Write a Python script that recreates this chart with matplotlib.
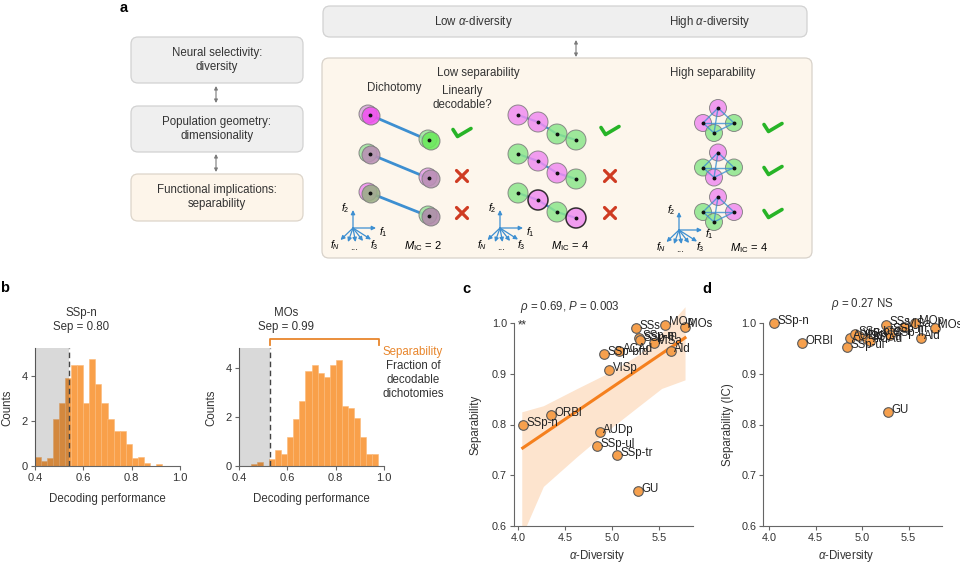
import numpy as np
import matplotlib
matplotlib.use('Agg')
import matplotlib.pyplot as plt
from matplotlib.patches import Circle, FancyBboxPatch

plt.rcParams['font.family'] = ['Liberation Sans', 'DejaVu Sans']
plt.rcParams['mathtext.fontset'] = 'custom'
plt.rcParams['mathtext.rm'] = 'Liberation Sans'
plt.rcParams['mathtext.it'] = 'Liberation Sans:italic'
plt.rcParams['mathtext.bf'] = 'Liberation Sans:bold'

# ---- panel b: decoding performance histograms ----
bin_edges = np.round(np.arange(0.4, 1.0001, 0.025), 3)
sspn_counts = [0.41, 0.22, 0.34, 2.1, 2.8, 3.93, 4.5, 4.5, 2.8, 4.74, 3.63, 2.8,
               2.1, 1.55, 1.55, 0.96, 0.37, 0.4, 0.13, 0, 0.07, 0, 0, 0]
mos_counts = [0, 0, 0.07, 0.15, 0, 0.3, 0.66, 0.47, 1.19, 1.9, 2.65, 3.85,
              4.1, 3.77, 3.64, 4.1, 4.3, 2.45, 2.35, 1.95, 1.2, 0.5, 0.5, 0]
sspn_thresh = 0.54
mos_thresh = 0.53
sep_range_end = 0.98

# ---- panels c, d: separability vs alpha-diversity ----
areas = ['SSp-n', 'ORBl', 'SSp-ul', 'AUDp', 'SSp-bfd', 'VISp', 'SSp-tr', 'ACAd',
         'SSs', 'GU', 'SSp-m', 'SSp-ll', 'VISa', 'MOp', 'Ald', 'MOs']
alpha_div = [4.05, 4.35, 4.84, 4.87, 4.92, 4.97, 5.055, 5.08,
             5.26, 5.28, 5.29, 5.30, 5.45, 5.57, 5.63, 5.78]
sep = [0.799, 0.818, 0.757, 0.786, 0.939, 0.907, 0.740, 0.944,
       0.990, 0.668, 0.970, 0.966, 0.961, 0.997, 0.945, 0.993]
sep_ic = [1.000, 0.961, 0.953, 0.971, 0.979, 0.975, 0.968, 0.965,
          0.997, 0.824, 0.985, 0.976, 0.993, 1.000, 0.970, 0.991]
# confidence band of the regression in c
band_x = [4.04, 4.27, 4.63, 4.99, 5.28, 5.53, 5.78]
band_lo = [0.58, 0.678, 0.737, 0.793, 0.835, 0.871, 0.888]
band_hi = [0.825, 0.837, 0.871, 0.904, 0.937, 0.980, 1.032]

ORANGE = '#f9a04a'
DARK_OR = '#e8862c'
BLUE = '#3d8fd1'
MAG = '#f08cf0'
GRN = '#8ce68c'

fig = plt.figure(figsize=(9.6, 5.65), dpi=100)

# overlay in pixel units for the schematic and free text
ax0 = fig.add_axes([0, 0, 1, 1])
ax0.set_xlim(0, 960)
ax0.set_ylim(565, 0)
ax0.axis('off')


def box(x0, y0, x1, y1, fc, ec='#d2d2d2'):
    ax0.add_patch(FancyBboxPatch((x0, y0), x1 - x0, y1 - y0,
                                 boxstyle='round,pad=0,rounding_size=7',
                                 fc=fc, ec=ec, lw=0.9, zorder=1))


def darrow(x, y0, y1):
    ax0.annotate('', xy=(x, y1), xytext=(x, y0),
                 arrowprops=dict(arrowstyle='<|-|>', color='#7a7a7a', lw=0.8,
                                 mutation_scale=5, shrinkA=0, shrinkB=0))


def check(cx, cy):
    ax0.plot([cx - 9, cx - 4.5, cx + 9], [cy - 2.5, cy + 4.5, cy - 3.5],
             color='#27b427', lw=2.6, solid_capstyle='round',
             solid_joinstyle='round', zorder=5)


def cross(cx, cy, s=5.5):
    kw = dict(color='#cf3b22', lw=2.3, solid_capstyle='round', zorder=5)
    ax0.plot([cx - s, cx + s], [cy - s, cy + s], **kw)
    ax0.plot([cx - s, cx + s], [cy + s, cy - s], **kw)


def disc(x, y, fc, r=8.5, ec='#7a7a7a', lw=0.7, alpha=0.88):
    ax0.add_patch(Circle((x, y), r, fc=fc, ec=ec, lw=lw, alpha=alpha, zorder=3))


def dot(x, y):
    ax0.plot(x, y, 'o', ms=1.8, color='#111', zorder=6)


def frame(ox, oy, mic):
    ak = dict(arrowstyle='-|>', color=BLUE, lw=0.9, mutation_scale=6,
              shrinkA=0, shrinkB=0)
    for dx, dy in [(0, -18), (23, 0), (-12.5, 12), (-5, 14), (2.5, 14), (10, 13), (18, 11.5)]:
        ax0.annotate('', xy=(ox + dx, oy + dy), xytext=(ox, oy), arrowprops=ak, zorder=5)
    fs = 7.5
    ax0.text(ox - 8, oy - 20, '$f_2$', fontsize=fs, ha='center', va='center')
    ax0.text(ox + 30, oy + 4, '$f_1$', fontsize=fs, ha='center', va='center')
    ax0.text(ox - 18, oy + 17, '$f_N$', fontsize=fs, ha='center', va='center')
    ax0.text(ox + 1, oy + 19, '...', fontsize=7, ha='center', va='center')
    ax0.text(ox + 21, oy + 17, '$f_3$', fontsize=fs, ha='center', va='center')
    ax0.text(ox + 70, oy + 18, r'$M_{\rm IC}$ = %d' % mic, fontsize=8,
             ha='center', va='center')


# left flow boxes
box(131, 37, 303, 83, '#efefef')
box(131, 106, 303, 152, '#efefef')
box(131, 174, 303, 221, '#fdf5ea', '#ddd5ca')
ax0.text(217, 60, 'Neural selectivity:\ndiversity', ha='center', va='center', fontsize=8.3, color='#333')
ax0.text(217, 129, 'Population geometry:\ndimensionality', ha='center', va='center', fontsize=8.3, color='#333')
ax0.text(217, 197, 'Functional implications:\nseparability', ha='center', va='center', fontsize=8.3, color='#333')
darrow(216, 86, 103)
darrow(216, 154, 172)

# right schematic boxes
box(323, 6, 807, 37, '#efefef')
ax0.text(473, 22, r'Low $\alpha$-diversity', ha='center', va='center', fontsize=8.3, color='#333')
ax0.text(710, 22, r'High $\alpha$-diversity', ha='center', va='center', fontsize=8.3, color='#333')
darrow(576, 40, 57)
box(322, 58, 812, 258, '#fdf6ec', '#d8d2ca')
ax0.text(478, 73, 'Low separability', ha='center', va='center', fontsize=8.3, color='#333')
ax0.text(713, 73, 'High separability', ha='center', va='center', fontsize=8.3, color='#333')
ax0.text(394, 88, 'Dichotomy', ha='center', va='center', fontsize=8.3, color='#333')
ax0.text(462, 98, 'Linearly\ndecodable?', ha='center', va='center', fontsize=8.3, color='#333')

# two-point dichotomies
pair_cols = [(('#d9a6dd', '#f052f0'), ('#9ee89e', '#6aea5a')),
             (('#9fe39f', '#b98fb5'), ('#e3a0e3', '#b98fb5')),
             (('#f090f0', '#9aae86'), ('#9fe39f', '#b08aab'))]
for i, (lc, rc) in enumerate(pair_cols):
    ly, ry = 115 + 39 * i, 140 + 38 * i
    ax0.plot([370, 428], [ly, ry], color=BLUE, lw=2, zorder=2)
    disc(368, ly - 1, lc[0], r=9)
    disc(371, ly + 1, lc[1], r=9)
    disc(428, ry - 1, rc[0], r=9)
    disc(431, ry + 1, rc[1], r=9)
    dot(370, ly)
    dot(429, ry)
check(462, 132)
cross(462, 176)
cross(462, 213)
frame(353, 228, 2)

# four-point chains
chain_dx = [0, 20, 39, 58]
chain_dy = [0, 7, 19, 25]
chain_cols = [[MAG, MAG, GRN, GRN], [GRN, MAG, MAG, GRN], [GRN, MAG, GRN, MAG]]
for i, cols in enumerate(chain_cols):
    xs = [518 + d for d in chain_dx]
    ys = [115 + 39 * i + d for d in chain_dy]
    ax0.plot(xs, ys, color=BLUE, lw=1.6, zorder=2)
    for j, (x, y, c) in enumerate(zip(xs, ys, cols)):
        black = (i == 2 and j in (1, 3))
        disc(x, y, c, r=10, ec='#111' if black else '#7a7a7a',
             lw=1.1 if black else 0.7, alpha=0.85)
        dot(x, y)
check(610, 130)
cross(610, 176)
cross(610, 213)
frame(500, 228, 4)

# tetrahedral arrangements
tet_off = [(0, 0), (-15, 15), (16, 15), (-4, 25)]
tet_cols = [[MAG, MAG, GRN, GRN], [MAG, GRN, GRN, MAG], [MAG, GRN, MAG, GRN]]
for i, cols in enumerate(tet_cols):
    pts = [(718 + dx, 108 + 44.5 * i + dy) for dx, dy in tet_off]
    for (x, y), c in zip(pts, cols):
        disc(x, y, c, r=8.5, alpha=0.85)
    for a in range(4):
        for b in range(a + 1, 4):
            ax0.plot([pts[a][0], pts[b][0]], [pts[a][1], pts[b][1]],
                     color=BLUE, lw=1, alpha=0.8, zorder=4)
    for x, y in pts:
        dot(x, y)
    check(773, 127 + 43 * i)
frame(679, 230, 4)

# panel letters
for x, y, s in [(120, 8, 'a'), (0, 288, 'b'), (462, 289, 'c'), (702, 289, 'd')]:
    ax0.text(x, y, s, fontsize=10.5, fontweight='bold', ha='left', va='center')


def style(ax, labelsize=7.5):
    for s in ('top', 'right'):
        ax.spines[s].set_visible(False)
    for s in ('left', 'bottom'):
        ax.spines[s].set_color('#666')
        ax.spines[s].set_linewidth(0.8)
    ax.tick_params(labelsize=labelsize, length=3, width=0.8, color='#666',
                   labelcolor='#333', pad=2)
    ax.patch.set_alpha(0)


# ---- panel b ----
hist_specs = [(35, sspn_counts, sspn_thresh, 5.24, 81, 'SSp-n\nSep = 0.80'),
              (239, mos_counts, mos_thresh, 4.8, 286, 'MOs\nSep = 0.99')]
hist_axes = []
for left, counts, thr, ytop, tx, title in hist_specs:
    ax = fig.add_axes([left / 960, 1 - 466 / 565, 145 / 960, 118 / 565])
    ax.bar(bin_edges[:-1], counts, width=0.025, align='edge', color=ORANGE,
           edgecolor='#fbb978', linewidth=0.4, zorder=2)
    ax.axvspan(0.4, thr, color='black', alpha=0.15, lw=0, zorder=3)
    ax.axvline(thr, color='#444', ls=(0, (4, 2.5)), lw=1, zorder=4)
    ax.set_xlim(0.4, 1.0)
    ax.set_ylim(0, ytop)
    ax.set_xticks([0.4, 0.6, 0.8, 1.0])
    ax.set_yticks([0, 2, 4])
    style(ax, 8)
    ax0.text(tx, 320, title, ha='center', va='center', fontsize=8.3, color='#333',
             linespacing=1.3)
    ax0.text(left + 72.5, 499, 'Decoding performance', ha='center', va='center',
             fontsize=8.3, color='#333')
    ax0.text(left - 28, 408, 'Counts', rotation=90, ha='center', va='center',
             fontsize=8.3, color='#333')
    hist_axes.append(ax)

axm = hist_axes[1]
yb = 4.8 + 9 / 24.6
axm.plot([mos_thresh, mos_thresh, sep_range_end, sep_range_end],
         [yb - 0.25, yb, yb, yb - 0.25], color=DARK_OR, lw=1.3, clip_on=False)
ax0.text(413, 352, 'Separability', ha='center', va='center', fontsize=8.3, color=DARK_OR)
ax0.text(413, 380, 'Fraction of\ndecodable\ndichotomies', ha='center', va='center',
         fontsize=8.3, color='#333', linespacing=1.25)

# ---- panels c and d ----
scatter_specs = [(514, 3.957, 5.865, sep, 'Separability', 475),
                 (763.3, 3.939, 5.862, sep_ic, 'Separability (IC)', 728)]
sc_axes = []
for left, x0, x1, yv, ylab, ylx in scatter_specs:
    ax = fig.add_axes([left / 960, 1 - 526 / 565, 179 / 960, 223.3 / 565])
    ax.scatter(alpha_div, yv, s=48, c='#f6a04d', edgecolors='#5a5a5a',
               linewidths=0.8, zorder=3)
    for name, x, y in zip(areas, alpha_div, yv):
        ax.annotate(name, (x, y), xytext=(2.5, 1.5), textcoords='offset points',
                    fontsize=8.3, va='center', ha='left', color='#222', zorder=4)
    ax.set_xlim(x0, x1)
    ax.set_ylim(0.6, 1.04)
    ax.spines['left'].set_bounds(0.6, 1.0)
    ax.set_xticks([4.0, 4.5, 5.0, 5.5])
    ax.set_yticks([0.6, 0.7, 0.8, 0.9, 1.0])
    style(ax, 7.8)
    ax0.text(ylx, 425, ylab, rotation=90, ha='center', va='center', fontsize=8.3, color='#333')
    ax0.text(left + 83, 556, r'$\alpha$-Diversity', ha='center', va='center',
             fontsize=8.3, color='#333')
    sc_axes.append(ax)

axc = sc_axes[0]
axc.fill_between(band_x, band_lo, band_hi, color='#fde4ce', lw=0, zorder=1)
fit = np.polyfit(alpha_div, sep, 1)
fx = np.array([min(alpha_div), max(alpha_div)])
axc.plot(fx, np.polyval(fit, fx), color='#f5801e', lw=2.2, zorder=2)
ax0.text(520, 307, r'$\rho$ = 0.69, $P$ = 0.003', ha='left', va='center',
         fontsize=8.3, color='#333')
ax0.text(518, 325, '**', ha='left', va='center', fontsize=8.3, color='#333')
ax0.text(862, 304, r'$\rho$ = 0.27 NS', ha='center', va='center', fontsize=8.3, color='#333')

fig.savefig('out.png', dpi=100)
